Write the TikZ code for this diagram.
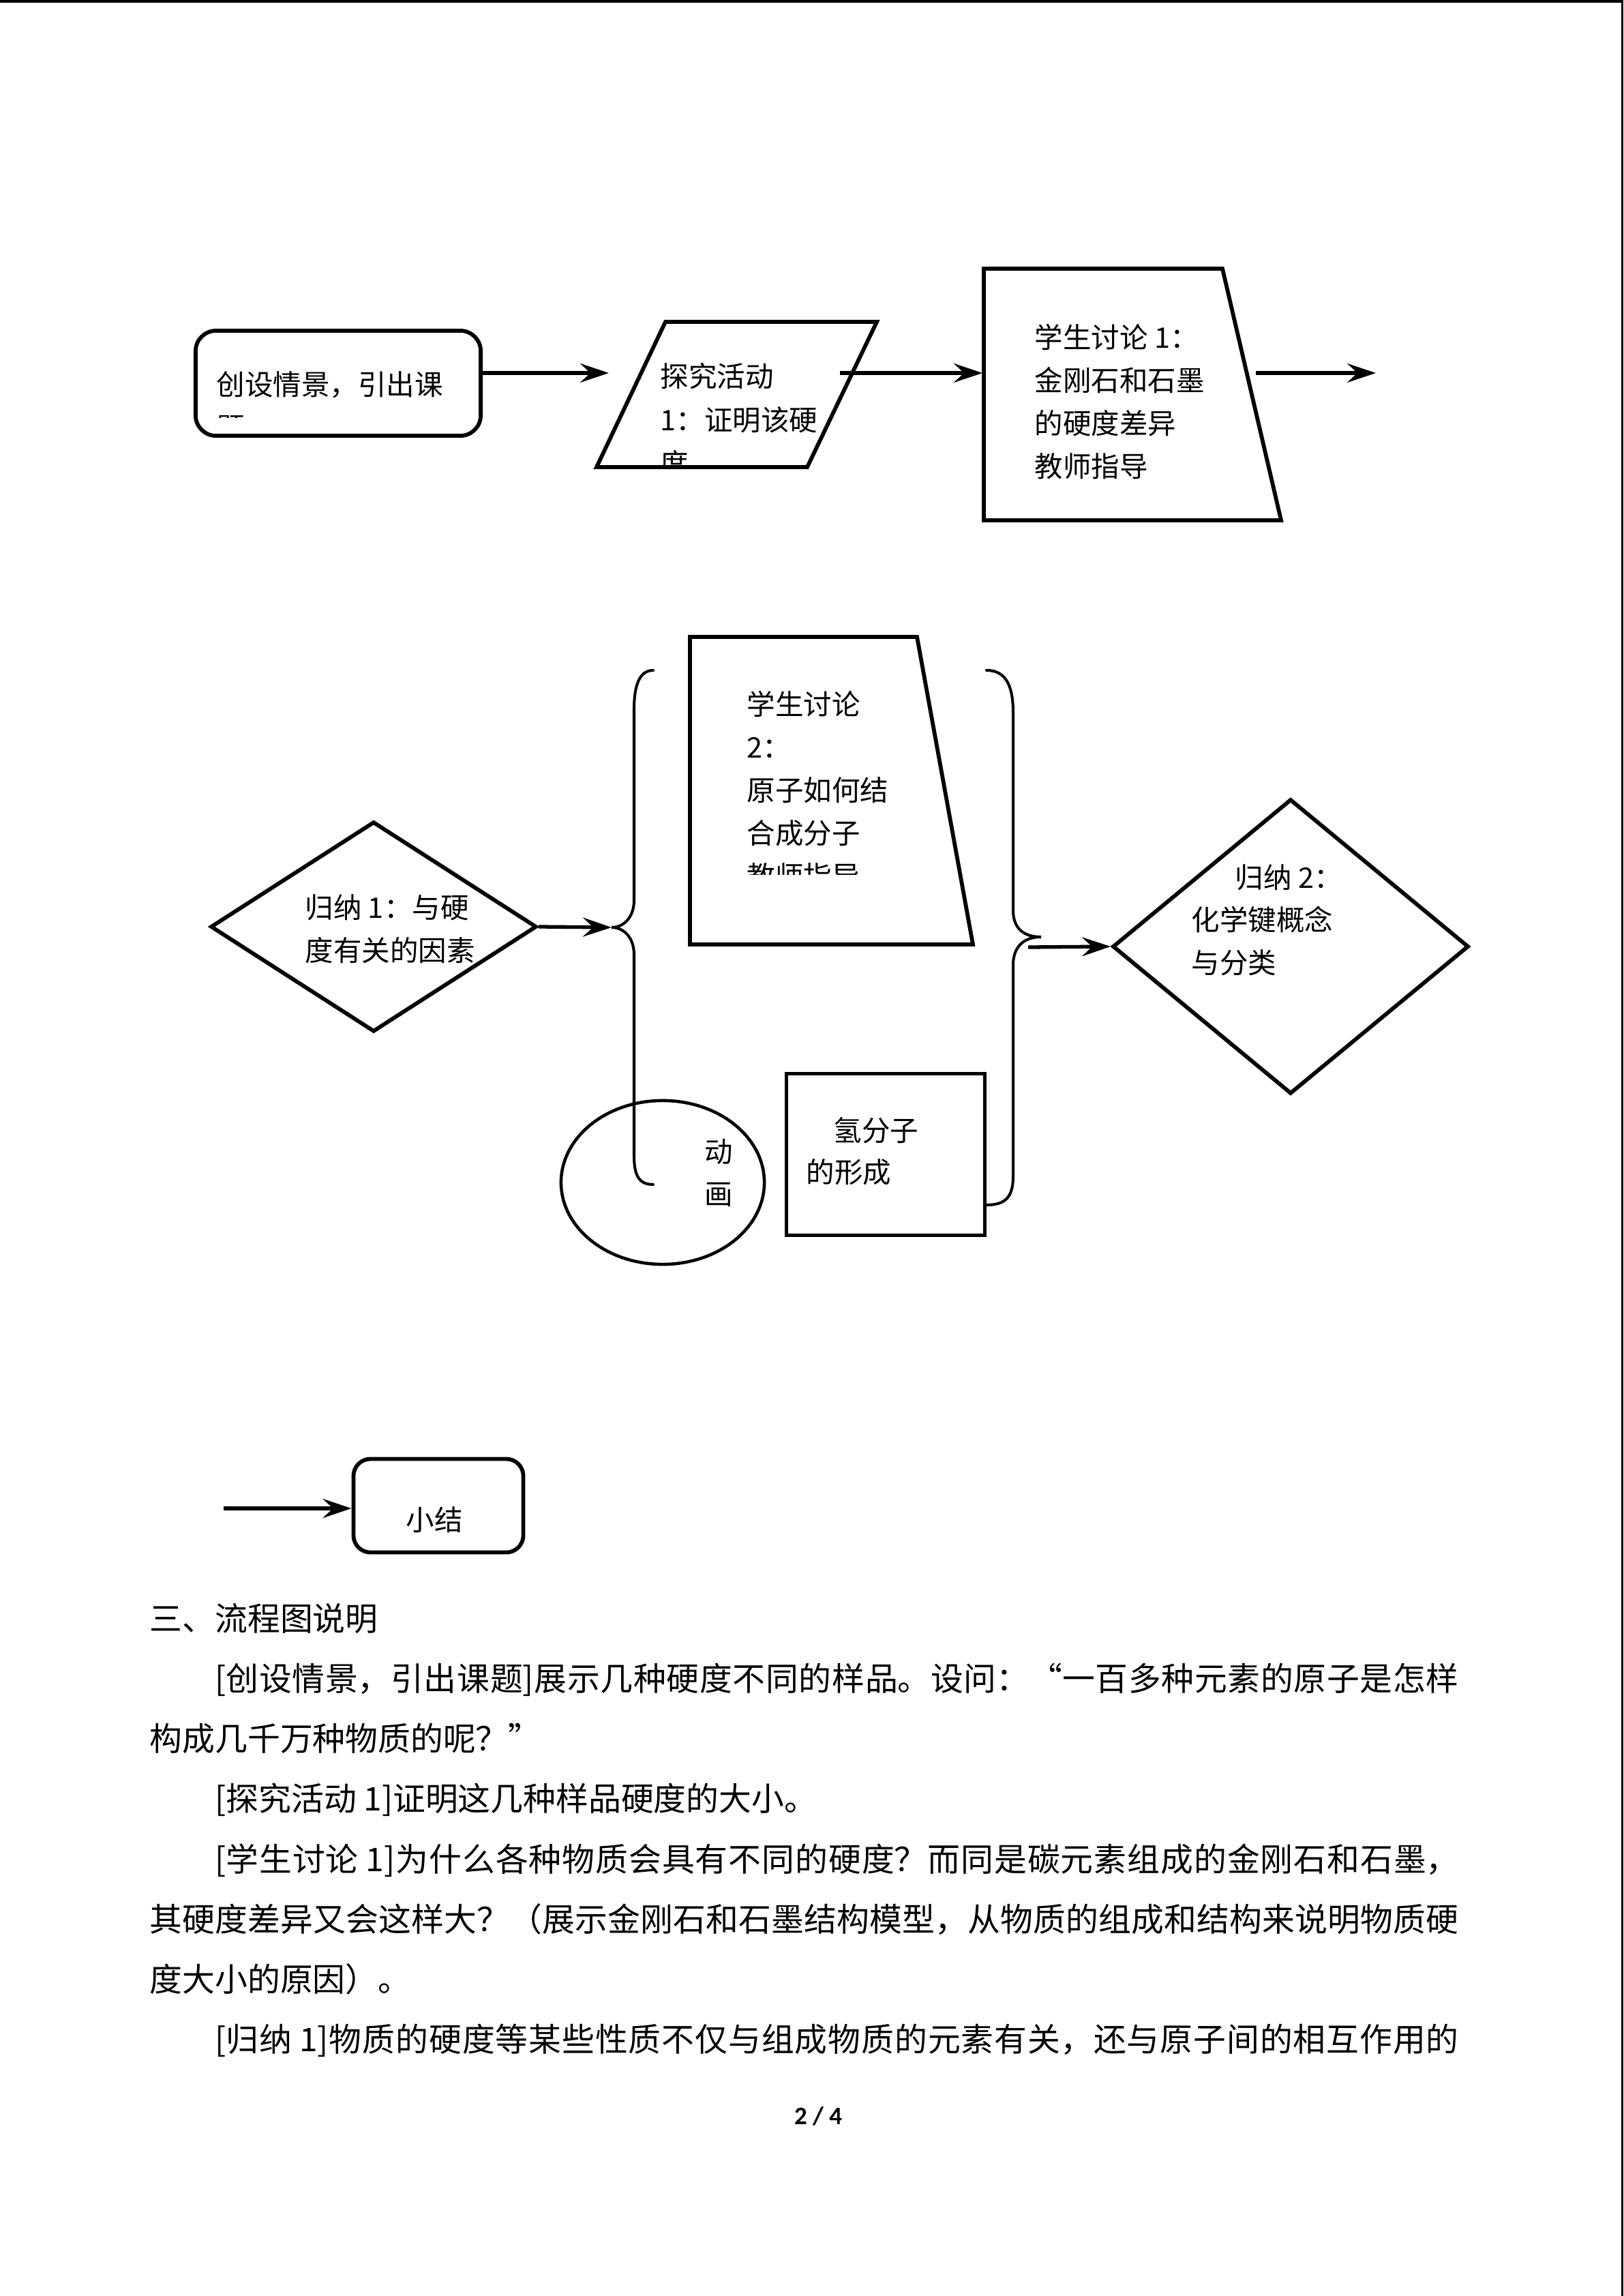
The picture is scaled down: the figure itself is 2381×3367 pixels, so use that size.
\documentclass[tikz,border=0pt]{standalone}
\usepackage{fontspec}
\setmainfont{Noto Sans CJK SC}
\newfontfamily\pnfont{Carlito}[BoldFont={* Bold}]
\usetikzlibrary{arrows.meta,shapes.geometric}
\XeTeXlinebreaklocale "zh"
\XeTeXlinebreakskip=0pt plus 4pt minus 0.6pt
\tikzset{
  >={Stealth[length=4.2mm,width=2.8mm,inset=1.5mm]},
  flow/.style={->,line width=1.5pt},
  edge/.style={draw,line width=1.65pt},
  rbox/.style={edge,rectangle,rounded corners=#1,inner sep=0pt},
  rbox/.default=0pt,
  dia/.style={edge,diamond,inner sep=0pt},
  brace line/.style={line width=1.15pt,line cap=round},
  lbl/.style={anchor=base west,inner sep=0pt,font=\fontsize{11.8pt}{14pt}\selectfont},
}
\begin{document}
\begin{tikzpicture}[x=0.01cm,y=-0.01cm]
  \useasboundingbox (0,0) rectangle (2381,3367);
  % page edges
  \draw[line width=1.2pt] (0,2) -- (2381,2);
  \draw[line width=0.9pt] (2379.5,0) -- (2379.5,3367);

  % first row
  \node[rbox=3mm,minimum width=4.18cm,minimum height=1.54cm] (intro) at (496,562) {};
  \draw[edge] (976,472) -- (1286,472) -- (1184,685) -- (875,685) -- cycle;
  \draw[edge] (1443,394) -- (1793,394) -- (1879,763) -- (1443,763) -- cycle;
  \coordinate (a1) at (893,547);
  \coordinate (a2) at (1232,547);
  \coordinate (a2e) at (1441,547);
  \coordinate (a3) at (1842,547);
  \coordinate (a3e) at (2018,547);
  \draw[flow] (intro.east |- a1) -- (a1);
  \draw[flow] (a2) -- (a2e);
  \draw[flow] (a3) -- (a3e);
  \begin{scope}
    \clip (285,483) rectangle (708,612);
    \foreach \t [count=\i from 0] in {创设情景，引出课,题}
      \node[lbl] (intro\i) at (317,579+63*\i) {\t};
  \end{scope}
  \begin{scope}
    \clip (870,470) rectangle (1290,683);
    \foreach \t [count=\i from 0] in {探究活动,1：证明该硬,度}
      \node[lbl] (probe\i) at (968,567+64*\i) {\t};
  \end{scope}
  \foreach \t [count=\i from 0] in {学生讨论 1：,金刚石和石墨,的硬度差异,教师指导}
    \node[lbl] (talkA\i) at (1517,510+63*\i) {\t};

  % second row
  \node[dia,minimum width=4.78cm,minimum height=3.08cm] (sumA) at (548,1359) {};
  \node[dia,minimum width=5.22cm,minimum height=4.32cm] (sumB) at (1893,1388) {};
  \draw[edge] (1012,934) -- (1345,934) -- (1427,1385) -- (1012,1385) -- cycle;
  \node[draw,ellipse,line width=1.3pt,minimum width=2.98cm,minimum height=2.4cm] (anim) at (972,1734) {};
  \node[draw,rectangle,line width=1.45pt,minimum width=2.9cm,minimum height=2.36cm] (hmol) at (1299,1693) {};
  \coordinate (lbt) at (897,1360);
  \coordinate (rbt) at (1527,1374);
  \draw[brace line] (958,983) .. controls (938,983) and (930,1005) .. (930,1040)
    -- (930,1320) .. controls (930,1345) and (915,1360) .. (lbt)
    .. controls (915,1360) and (930,1375) .. (930,1400)
    -- (930,1695) .. controls (930,1725) and (938,1737) .. (958,1737);
  \draw[brace line] (1447,983) .. controls (1475,983) and (1486,1005) .. (1486,1045)
    -- (1486,1335) .. controls (1486,1360) and (1500,1374) .. (rbt)
    .. controls (1500,1374) and (1486,1390) .. (1486,1415)
    -- (1486,1725) .. controls (1486,1755) and (1475,1767) .. (1447,1767);
  \coordinate (rbs) at (1508,1389);
  \draw[flow] (sumA.east) -- (lbt);
  \draw[flow] (rbs) -- (sumB.west);
  \foreach \t [count=\i from 0] in {归纳 1：与硬,度有关的因素}
    \node[lbl] (sumA\i) at (447,1346+63*\i) {\t};
  \node[lbl] (sumB0) at (1811,1302) {归纳 2：};
  \foreach \t [count=\i from 1] in {化学键概念,与分类}
    \node[lbl] (sumB\i) at (1747,1301+63*\i) {\t};
  \begin{scope}
    \clip (1012,934) rectangle (1345,1282);
    \foreach \t [count=\i from 0] in {学生讨论,2：,原子如何结,合成分子,教师指导}
      \node[lbl] (talkB\i) at (1095,1048+63*\i) {\t};
  \end{scope}
  \foreach \t [count=\i from 0] in {动,画}
    \node[lbl] (anim\i) at (1033,1704+62*\i) {\t};
  \node[lbl] (hmol0) at (1222,1673) {氢分子};
  \node[lbl] (hmol1) at (1182,1734) {的形成};

  % third row
  \node[rbox=2.5mm,minimum width=2.49cm,minimum height=1.37cm] (recap) at (643,2208) {};
  \coordinate (a4) at (328,2212);
  \draw[flow] (a4) -- (recap.west |- a4);
  \node[lbl] (recap0) at (595,2244) {小结};

  % notes
  \node[anchor=north west,inner sep=0pt,text width=19.19cm,align=justify,
    font=\fontsize{13.6pt}{25.1pt}\selectfont] (notes) at (219,2320) {%
    \rule{0pt}{20pt}三、流程图说明\par
    \hspace*{2em}[创设情景，引出课题]展示几种硬度不同的样品。设问：“一百多种元素的原子是怎样\linebreak
    构成几千万种物质的呢？”\par
    \hspace*{2em}[探究活动 1]证明这几种样品硬度的大小。\par
    \hspace*{2em}[学生讨论 1]为什么各种物质会具有不同的硬度？而同是碳元素组成的金刚石和石墨，\linebreak
    其硬度差异又会这样大？（展示金刚石和石墨结构模型，从物质的组成和结构来说明物质硬\linebreak
    度大小的原因）。\par
    \hspace*{2em}[归纳 1]物质的硬度等某些性质不仅与组成物质的元素有关，还与原子间的相互作用的{\parfillskip=0pt\par}};
  \node[anchor=base,inner sep=0pt,font=\pnfont\bfseries\fontsize{10.5pt}{12pt}\selectfont] (pgno) at (1200,3115) {2 / 4};
\end{tikzpicture}
\end{document}
